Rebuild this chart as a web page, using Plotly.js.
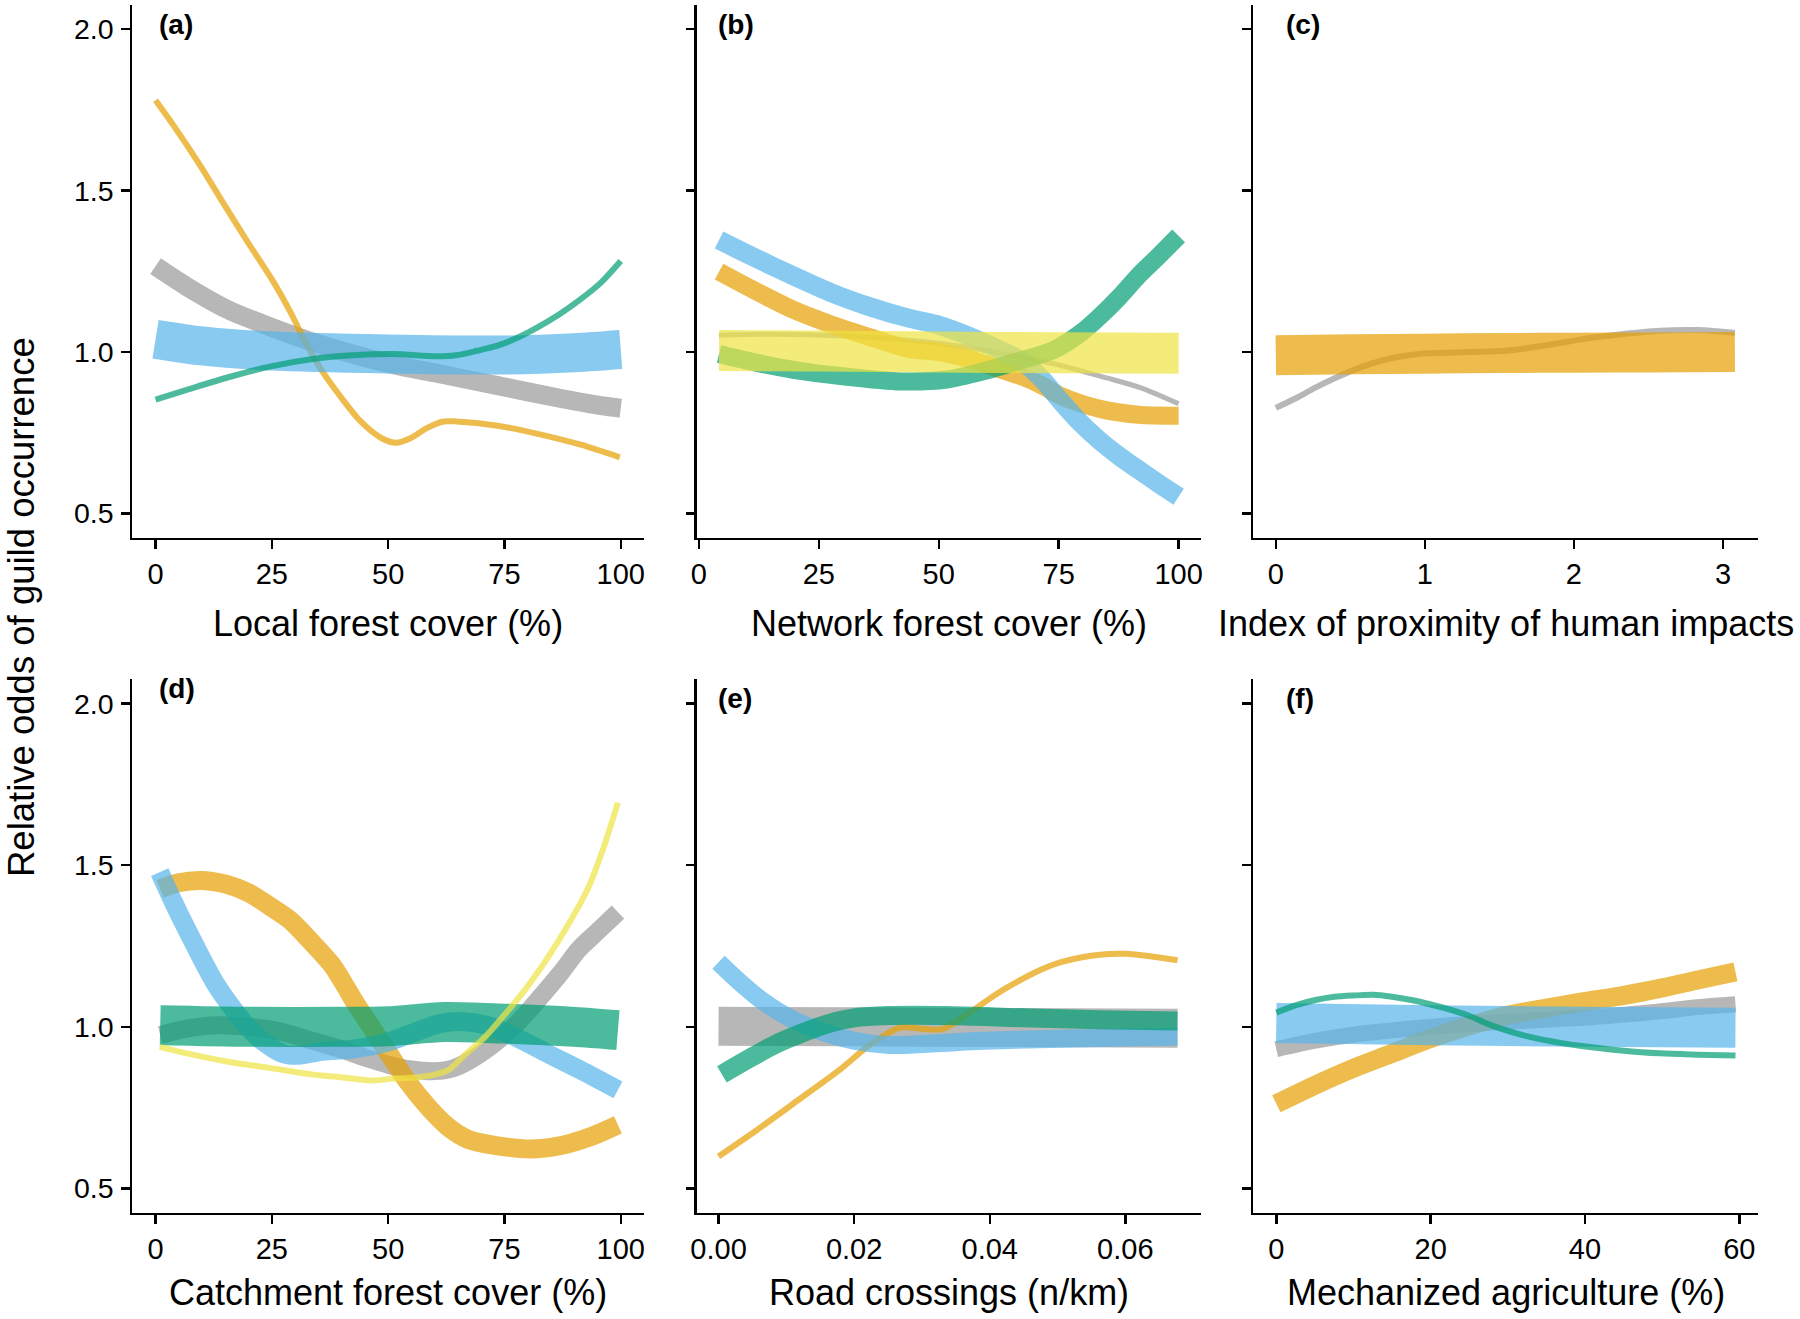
<!DOCTYPE html>
<html>
<head>
<meta charset="utf-8">
<script src="https://cdn.plot.ly/plotly-3.0.1.min.js"></script>
<style>html,body{margin:0;padding:0;background:#fff;}#chart{width:1800px;height:1319px;}</style>
</head>
<body>
<div id="chart"></div>
<script>
// ---------------- DATA ----------------
// (a) Local forest cover (%)
const aGrayX   = [0, 6.7, 15.6, 24.5, 33.4, 42.3, 51.2, 60.2, 69.1, 78.0, 86.9, 95.8, 100];
const aGrayY   = [1.266, 1.203, 1.131, 1.079, 1.033, 0.994, 0.961, 0.935, 0.909, 0.883, 0.857, 0.834, 0.826];
const aOrangeX = [0, 4.0, 9.4, 14.7, 20.1, 25.4, 29.0, 32.1, 35.2, 39.7, 44.1, 48.6, 51.7, 54.8, 58.4, 61.9, 64.6, 73.5, 82.4, 91.4, 99.8];
const aOrangeY = [1.780, 1.699, 1.582, 1.458, 1.334, 1.216, 1.124, 1.033, 0.955, 0.863, 0.785, 0.733, 0.719, 0.733, 0.765, 0.785, 0.785, 0.772, 0.746, 0.713, 0.674];
const aBlueX   = [0, 10, 25, 50, 75, 90, 100];
const aBlueY   = [1.040, 1.019, 1.003, 0.994, 0.991, 0.998, 1.008];
const aGreenX  = [0, 6.7, 15.6, 24.5, 33.4, 42.3, 51.2, 60.2, 64.6, 69.1, 73.5, 78.0, 82.4, 86.9, 91.4, 95.8, 100];
const aGreenY  = [0.853, 0.883, 0.922, 0.955, 0.978, 0.990, 0.994, 0.987, 0.990, 1.004, 1.020, 1.046, 1.079, 1.118, 1.164, 1.216, 1.282];

// (b) Network forest cover (%)
const bGrayX   = [4.2, 15, 30, 45, 55, 65, 75, 85, 92, 100];
const bGrayY   = [1.052, 1.055, 1.050, 1.035, 1.017, 0.990, 0.960, 0.920, 0.890, 0.840];
const bOrangeX = [4.2, 11.7, 19.7, 27.7, 35.7, 43.7, 50.1, 55.7, 63.7, 67.7, 71.6, 75.6, 83.6, 91.6, 100];
const bOrangeY = [1.249, 1.190, 1.131, 1.085, 1.046, 1.010, 1.000, 0.981, 0.942, 0.922, 0.896, 0.863, 0.824, 0.806, 0.803];
const bBlueX   = [4.2, 11.7, 19.7, 27.7, 35.7, 43.7, 50.1, 55.7, 63.7, 67.7, 71.6, 75.6, 79.6, 83.6, 87.6, 91.6, 95.6, 100];
const bBlueY   = [1.347, 1.292, 1.236, 1.183, 1.140, 1.105, 1.083, 1.053, 1.000, 0.968, 0.915, 0.845, 0.780, 0.725, 0.678, 0.636, 0.595, 0.552];
const bGreenX  = [4.2, 11.7, 19.7, 30, 42.1, 51.7, 59.7, 65.7, 74.0, 79.6, 83.6, 87.6, 91.6, 95.6, 100];
const bGreenY  = [0.994, 0.968, 0.945, 0.925, 0.909, 0.915, 0.942, 0.968, 1.007, 1.059, 1.111, 1.170, 1.236, 1.294, 1.360];
const bYellowX = [4.2, 25, 50, 75, 100];
const bYellowY = [1.005, 1.003, 1.000, 0.998, 0.996];

// (c) Index of proximity of human impacts
const cGrayX   = [0, 0.134, 0.262, 0.391, 0.519, 0.647, 0.776, 0.904, 1.033, 1.289, 1.546, 1.803, 2.060, 2.317, 2.574, 2.831, 3.08];
const cGrayY   = [0.827, 0.857, 0.889, 0.918, 0.944, 0.965, 0.981, 0.991, 0.996, 1.000, 1.004, 1.020, 1.040, 1.055, 1.066, 1.068, 1.059];
const cOrangeX = [0, 0.5, 1, 1.5, 2, 2.5, 3.08];
const cOrangeY = [0.990, 0.993, 0.995, 0.997, 0.998, 0.999, 1.000];

// (d) Catchment forest cover (%)
const dGrayX   = [1, 7, 13, 20, 27, 33, 40, 45, 50, 55, 60, 64, 68, 73, 78, 82, 87, 91, 95, 99.4];
const dGrayY   = [0.975, 0.995, 1.005, 1.000, 0.985, 0.960, 0.930, 0.905, 0.883, 0.868, 0.863, 0.872, 0.900, 0.950, 1.015, 1.080, 1.165, 1.240, 1.295, 1.355];
const dOrangeX = [1, 4.9, 10.2, 15.5, 20.1, 24.5, 29.0, 33.4, 37.9, 40.5, 43.2, 46.8, 50.4, 54.0, 58.4, 62.9, 67.3, 73.5, 80.7, 86.9, 93.1, 99.4];
const dOrangeY = [1.427, 1.446, 1.453, 1.440, 1.414, 1.374, 1.329, 1.264, 1.192, 1.133, 1.068, 0.990, 0.912, 0.834, 0.755, 0.690, 0.651, 0.632, 0.622, 0.632, 0.658, 0.697];
const dBlueX   = [0.9, 4.0, 8.5, 12.9, 17.4, 21.8, 27.2, 30.7, 36.1, 42.3, 49.5, 55.7, 61.1, 66.4, 71.7, 78.0, 84.2, 91.4, 99.4];
const dBlueY   = [1.479, 1.381, 1.251, 1.133, 1.042, 0.970, 0.918, 0.912, 0.925, 0.931, 0.951, 0.983, 1.010, 1.016, 1.003, 0.964, 0.918, 0.866, 0.805];
const dGreenX  = [1, 20, 40, 50, 62, 75, 90, 99.4];
const dGreenY  = [1.005, 1.000, 1.000, 1.002, 1.015, 1.010, 1.000, 0.990];
const dYellowX = [0.9, 6.7, 15.6, 24.5, 33.4, 37.9, 42.3, 46.8, 51.2, 55.7, 60.2, 62.9, 66.4, 70.9, 75.3, 79.7, 84.2, 88.7, 93.1, 96.2, 99.4];
const dYellowY = [0.938, 0.918, 0.892, 0.873, 0.853, 0.847, 0.840, 0.834, 0.840, 0.843, 0.853, 0.866, 0.912, 0.970, 1.042, 1.120, 1.212, 1.316, 1.433, 1.550, 1.694];

// (e) Road crossings (n/km)
const eGrayX   = [0, 0.02, 0.04, 0.0677];
const eGrayY   = [1.002, 1.000, 0.998, 0.996];
const eOrangeX = [0, 0.0054, 0.011, 0.0178, 0.0223, 0.0268, 0.0296, 0.033, 0.0364, 0.0404, 0.0426, 0.0477, 0.0505, 0.0562, 0.0601, 0.0641, 0.0677];
const eOrangeY = [0.599, 0.677, 0.762, 0.866, 0.944, 0.998, 0.995, 0.993, 1.035, 1.093, 1.122, 1.178, 1.200, 1.223, 1.226, 1.217, 1.206];
const eBlueX   = [0, 0.0031, 0.0065, 0.011, 0.0155, 0.020, 0.0251, 0.0308, 0.0392, 0.0505, 0.0677];
const eBlueY   = [1.200, 1.139, 1.080, 1.022, 0.983, 0.957, 0.944, 0.948, 0.957, 0.963, 0.970];
const eGreenX  = [0.0005, 0.0042, 0.0082, 0.0121, 0.0167, 0.0200, 0.0251, 0.0336, 0.0449, 0.0562, 0.0677];
const eGreenY  = [0.853, 0.898, 0.944, 0.979, 1.013, 1.028, 1.035, 1.035, 1.028, 1.022, 1.018];

// (f) Mechanized agriculture (%)
const fGrayX   = [0, 5.06, 10.0, 15.0, 19.9, 24.9, 29.8, 34.8, 39.8, 44.7, 49.7, 54.6, 59.5];
const fGrayY   = [0.931, 0.957, 0.976, 0.989, 1.000, 1.009, 1.015, 1.022, 1.028, 1.037, 1.048, 1.061, 1.070];
const fOrangeX = [0, 5.06, 10.0, 15.0, 19.9, 24.9, 29.8, 34.8, 39.8, 44.7, 49.7, 54.6, 59.5];
const fOrangeY = [0.762, 0.820, 0.872, 0.918, 0.963, 1.002, 1.035, 1.057, 1.078, 1.096, 1.119, 1.145, 1.170];
const fBlueX   = [0, 20, 40, 59.5];
const fBlueY   = [1.012, 1.005, 1.000, 0.997];
const fGreenX  = [0, 2.58, 5.06, 7.54, 10.0, 12.5, 15.0, 17.5, 19.9, 22.4, 24.9, 27.4, 29.8, 32.3, 34.8, 39.8, 44.7, 49.7, 54.6, 59.5];
const fGreenY  = [1.044, 1.067, 1.083, 1.093, 1.097, 1.099, 1.093, 1.083, 1.070, 1.054, 1.035, 1.009, 0.989, 0.972, 0.959, 0.940, 0.927, 0.918, 0.914, 0.911];

// Axis ticks / labels
const yTicks = [0.5, 1.0, 1.5, 2.0];
const yTickText = ['0.5', '1.0', '1.5', '2.0'];
const forestTicks = [0, 25, 50, 75, 100];
const impactTicks = [0, 1, 2, 3];
const roadTicks = [0, 0.02, 0.04, 0.06];
const roadTickText = ['0.00', '0.02', '0.04', '0.06'];
const agriTicks = [0, 20, 40, 60];
const xTitles = ['Local forest cover (%)', 'Network forest cover (%)', 'Index of proximity of human impacts',
                 'Catchment forest cover (%)', 'Road crossings (n/km)', 'Mechanized agriculture (%)'];
const panelLabels = ['(a)', '(b)', '(c)', '(d)', '(e)', '(f)'];
const yTitle = 'Relative odds of guild occurrence';

// ---------------- STYLE ----------------
const COL = {
  gray: 'rgba(153,153,153,0.7)',
  orange: 'rgba(230,159,0,0.7)',
  blue: 'rgba(86,180,233,0.7)',
  green: 'rgba(0,158,115,0.7)',
  yellow: 'rgba(240,228,66,0.7)'
};
const THIN = 6, MED = 19, THICK = 39;

function tr(xs, ys, color, width, idx) {
  const s = idx === 1 ? '' : String(idx);
  return {
    x: xs, y: ys, type: 'scatter', mode: 'lines',
    line: {color: color, width: width, shape: 'spline', smoothing: 0.8},
    xaxis: 'x' + s, yaxis: 'y' + s, hoverinfo: 'skip', showlegend: false
  };
}

const traces = [
  // (a)
  tr(aGrayX, aGrayY, COL.gray, MED, 1),
  tr(aOrangeX, aOrangeY, COL.orange, THIN, 1),
  tr(aBlueX, aBlueY, COL.blue, THICK, 1),
  tr(aGreenX, aGreenY, COL.green, THIN, 1),
  // (b)
  tr(bGrayX, bGrayY, COL.gray, 5, 2),
  tr(bOrangeX, bOrangeY, COL.orange, 18, 2),
  tr(bBlueX, bBlueY, COL.blue, MED, 2),
  tr(bGreenX, bGreenY, COL.green, 18, 2),
  tr(bYellowX, bYellowY, COL.yellow, 41, 2),
  // (c)
  tr(cGrayX, cGrayY, COL.gray, THIN, 3),
  tr(cOrangeX, cOrangeY, COL.orange, 40, 3),
  // (d)
  tr(dGrayX, dGrayY, COL.gray, 18, 4),
  tr(dOrangeX, dOrangeY, COL.orange, MED, 4),
  tr(dBlueX, dBlueY, COL.blue, MED, 4),
  tr(dGreenX, dGreenY, COL.green, 40, 4),
  tr(dYellowX, dYellowY, COL.yellow, THIN, 4),
  // (e)
  tr(eGrayX, eGrayY, COL.gray, THICK, 5),
  tr(eOrangeX, eOrangeY, COL.orange, THIN, 5),
  tr(eBlueX, eBlueY, COL.blue, 18, 5),
  tr(eGreenX, eGreenY, COL.green, MED, 5),
  // (f)
  tr(fGrayX, fGrayY, COL.gray, 16, 6),
  tr(fOrangeX, fOrangeY, COL.orange, MED, 6),
  tr(fBlueX, fBlueY, COL.blue, 40, 6),
  tr(fGreenX, fGreenY, COL.green, THIN, 6)
];

// ---------------- LAYOUT ----------------
const W = 1800, H = 1319;
const colPx = [[132.3, 644], [696.7, 1200.7], [1253.3, 1757.7]];
const rowPx = [[5, 537.7], [679.4, 1212.7]];
const FONT = 'Liberation Sans, Arial, Helvetica, sans-serif';

function xdom(c) { return [colPx[c][0] / W, colPx[c][1] / W]; }
function ydom(r) { return [1 - rowPx[r][1] / H, 1 - rowPx[r][0] / H]; }

const xRanges = [[-5, 105], [-0.45, 104.6], [-0.151, 3.233], [-5, 105], [-0.00322, 0.07112], [-2.98, 62.38]];
const xTickVals = [forestTicks, forestTicks, impactTicks, forestTicks, roadTicks, agriTicks];
const xTickTexts = [forestTicks.map(String), forestTicks.map(String), impactTicks.map(String),
                    forestTicks.map(String), roadTickText, agriTicks.map(String)];

const layout = {
  width: W, height: H,
  margin: {l: 0, r: 0, t: 0, b: 0, pad: 0},
  paper_bgcolor: '#ffffff', plot_bgcolor: '#ffffff',
  showlegend: false,
  font: {family: FONT, color: '#000000'},
  annotations: [],
  shapes: []
};

for (let i = 0; i < 6; i++) {
  const c = i % 3, r = Math.floor(i / 3);
  const s = i === 0 ? '' : String(i + 1);
  layout['xaxis' + s] = {
    domain: xdom(c), range: xRanges[i], anchor: 'y' + s,
    showgrid: false, zeroline: false, showline: true, linecolor: '#000', linewidth: 2.6,
    ticks: 'outside', ticklen: 8.5, tickwidth: 2.4, tickcolor: '#000',
    tickmode: 'array', tickvals: xTickVals[i], ticktext: xTickTexts[i],
    tickfont: {family: FONT, size: 29, color: '#000'}, ticklabelstandoff: 0,
    fixedrange: true
  };
  layout['yaxis' + s] = {
    domain: ydom(r), range: [0.425, 2.075], anchor: 'x' + s,
    showgrid: false, zeroline: false, showline: true, linecolor: '#000', linewidth: 2.6,
    ticks: 'outside', ticklen: 8.5, tickwidth: 2.4, tickcolor: '#000',
    tickmode: 'array', tickvals: yTicks, ticktext: yTickText,
    showticklabels: c === 0,
    tickfont: {family: FONT, size: 28.5, color: '#000'}, ticklabelstandoff: 2,
    fixedrange: true
  };
  // x-axis title
  const titleY = r === 0 ? 624 : 1292;
  layout.annotations.push({
    xref: 'paper', yref: 'paper',
    x: (colPx[c][0] + colPx[c][1]) / 2 / W, y: 1 - titleY / H,
    xanchor: 'center', yanchor: 'middle', showarrow: false,
    text: xTitles[i], font: {family: FONT, size: 36, color: '#000'}
  });
}

// panel labels
const labelPos = [[156.5, 24.5], [715.5, 24.5], [1283.5, 24.5], [156.5, 688], [715.5, 698], [1283.5, 698]];
panelLabels.forEach((t, i) => {
  layout.annotations.push({
    xref: 'paper', yref: 'paper',
    x: labelPos[i][0] / W, y: 1 - labelPos[i][1] / H,
    xanchor: 'left', yanchor: 'middle', showarrow: false,
    text: '<b>' + t + '</b>', font: {family: FONT, size: 28, color: '#000'}
  });
});

// shared y title
layout.annotations.push({
  xref: 'paper', yref: 'paper',
  x: 21 / W, y: 1 - 607 / H,
  xanchor: 'center', yanchor: 'middle', showarrow: false, textangle: -90,
  text: yTitle, font: {family: FONT, size: 36.5, color: '#000'}
});

Plotly.newPlot('chart', traces, layout, {staticPlot: true, displayModeBar: false});
</script>
</body>
</html>
